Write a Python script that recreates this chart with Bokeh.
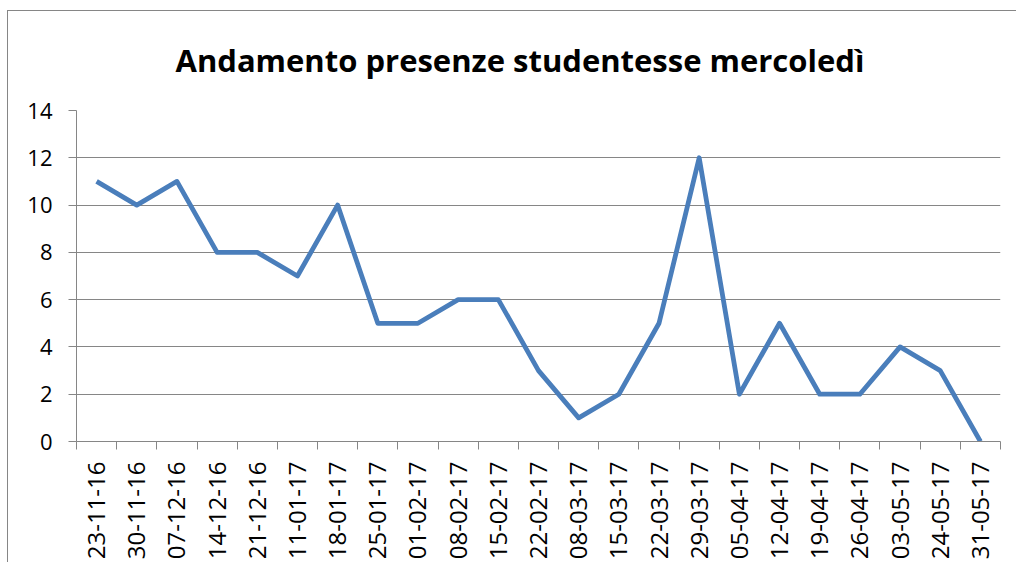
import math
from bokeh.plotting import figure
from bokeh.models import Range1d, FixedTicker, ColumnDataSource
from bokeh.embed import file_html
from bokeh.resources import INLINE

# ---- data ----
dates = ["23-11-16", "30-11-16", "07-12-16", "14-12-16", "21-12-16", "11-01-17",
         "18-01-17", "25-01-17", "01-02-17", "08-02-17", "15-02-17", "22-02-17",
         "08-03-17", "15-03-17", "22-03-17", "29-03-17", "05-04-17", "12-04-17",
         "19-04-17", "26-04-17", "03-05-17", "24-05-17", "31-05-17"]
presenze = [11, 10, 11, 8, 8, 7, 10, 5, 5, 6, 6, 3, 1, 2, 5, 12, 2, 5, 2, 2, 4, 3, 0]
y_ticks = [0, 2, 4, 6, 8, 10, 12, 14]
title_text = "Andamento presenze studentesse mercoledì"

n = len(dates)
xs = [i + 0.5 for i in range(n)]
src = ColumnDataSource(dict(x=xs, y=presenze, d=dates))

GRAY = "#868686"
FONT = "Open Sans"

p = figure(width=1009, height=556, output_backend="svg", toolbar_location=None,
           x_range=Range1d(0, n), y_range=Range1d(min(y_ticks), max(y_ticks)),
           min_border_left=69, min_border_right=16, min_border_top=104,
           min_border_bottom=121, title=title_text)
# chart-area border (top and left edges) drawn as a CSS background behind a transparent canvas
p.styles = {
    "margin-left": "7px", "margin-top": "6px",
    "background": ("linear-gradient(#868686,#868686) 0 4px / 100% 1px no-repeat, "
                   "linear-gradient(#868686,#868686) 0 4px / 1px 100% no-repeat, white"),
}
p.outline_line_color = None
p.background_fill_color = "white"
p.border_fill_color = None

p.title.align = "left"
p.title.offset = 99
p.title.standoff = 59
p.title.text_font = FONT
p.title.text_font_style = "bold"
p.title.text_font_size = "31px"
p.title.text_color = "black"

p.line("x", "y", source=src, line_color="#4A7EBB", line_width=4.8,
       line_join="round", line_cap="butt")

# y axis
p.yaxis.ticker = FixedTicker(ticks=y_ticks)
p.yaxis.axis_line_color = GRAY
p.yaxis.major_tick_line_color = GRAY
p.yaxis.major_tick_out = 8
p.yaxis.major_tick_in = 0
p.yaxis.minor_tick_line_color = None
p.yaxis.major_label_text_font = FONT
p.yaxis.major_label_text_font_size = "22px"
p.yaxis.major_label_text_color = "black"
p.yaxis.major_label_standoff = 16
p.ygrid.ticker = FixedTicker(ticks=y_ticks)
p.ygrid.grid_line_color = GRAY
p.ygrid.grid_line_width = 1
p.xgrid.grid_line_color = None

# x axis: labels at category centres, tick marks between categories
p.xaxis.ticker = FixedTicker(ticks=xs, minor_ticks=list(range(n + 1)))
p.xaxis.major_label_overrides = {x: d for x, d in zip(xs, dates)}
p.xaxis.axis_line_color = GRAY
p.xaxis.major_tick_line_color = None
p.xaxis.major_tick_out = 0
p.xaxis.major_tick_in = 0
p.xaxis.minor_tick_line_color = GRAY
p.xaxis.minor_tick_out = 8
p.xaxis.minor_tick_in = 0
p.xaxis.major_label_orientation = math.pi / 2
p.xaxis.major_label_text_font = FONT
p.xaxis.major_label_text_font_size = "24px"
p.xaxis.major_label_text_color = "black"
p.xaxis.major_label_standoff = 12

open("out.html", "w").write(file_html(p, INLINE))
